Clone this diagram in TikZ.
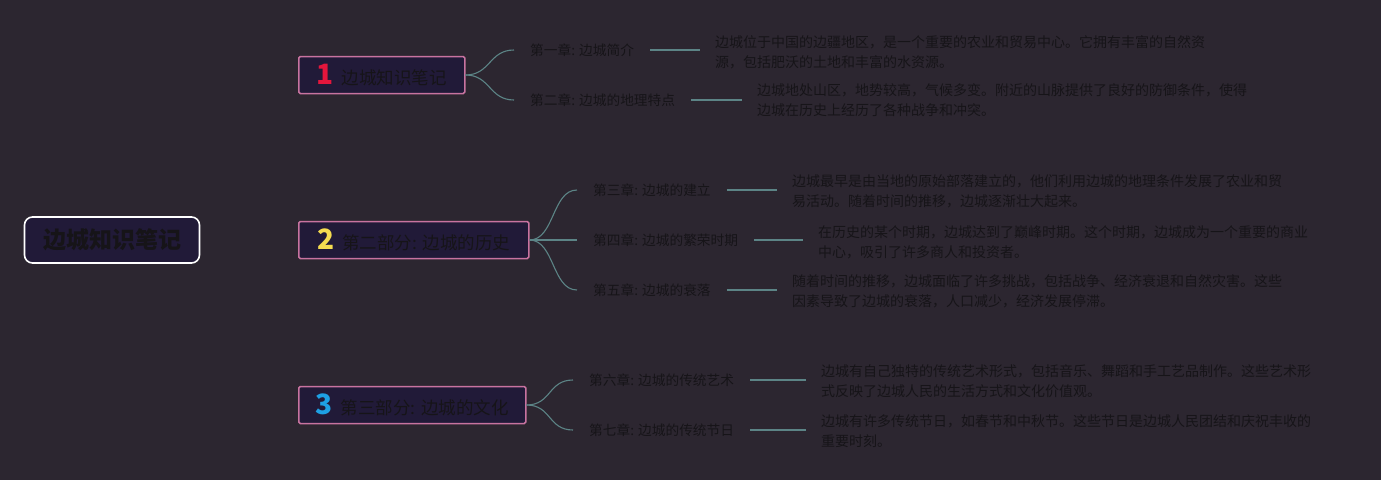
\documentclass[tikz,border=0pt]{standalone}
\usepackage{fontspec}
\setmainfont{Noto Sans CJK SC}
\usetikzlibrary{backgrounds,calc}
\definecolor{bg}{RGB}{44,38,48}
\definecolor{boxfill}{RGB}{33,26,56}
\definecolor{pinkline}{RGB}{200,115,160}
\definecolor{linkc}{RGB}{92,132,134}
\definecolor{txt}{RGB}{22,20,24}
\definecolor{numa}{RGB}{228,22,60}
\definecolor{numb}{RGB}{245,220,80}
\definecolor{numc}{RGB}{30,160,228}
\newcommand{\partnum}[2]{{\fontsize{28}{28}\selectfont\bfseries\color{#1}#2}\hspace{8pt}}
\tikzset{
  rootbox/.style={draw=white, line width=1.6pt, fill=boxfill, rounded corners=8pt,
    minimum width=175pt, minimum height=46pt, inner sep=0pt, text=txt,
    font=\fontsize{23}{23}\selectfont\bfseries},
  partbox/.style={draw=pinkline, line width=1.5pt, fill=boxfill, rounded corners=1.5pt,
    minimum height=37pt, inner sep=0pt, anchor=west, text=txt,
    font=\fontsize{17.5}{17.5}\selectfont},
  chap/.style={anchor=west, inner xsep=16pt, inner ysep=2pt, text=txt,
    font=\fontsize{13.7}{16}\selectfont},
  detail/.style={anchor=west, inner xsep=15pt, inner ysep=0pt, align=left, text=txt,
    font=\fontsize{14}{20}\selectfont},
  conn/.style={draw=linkc, line width=1.1pt},
  hconn/.style={draw=linkc, line width=1.4pt}
}
\begin{document}
\begin{tikzpicture}[x=1pt,y=-1pt]
\useasboundingbox[fill=bg] (0,0) rectangle (1381,480);

\node[rootbox] (root) at (112,240) {边城知识笔记};
\node[partbox, minimum width=166pt] (p1) at (298,75) {\partnum{numa}{1}边城知识笔记};
\node[partbox, minimum width=230pt] (p2) at (298,240) {\partnum{numb}{2}第二部分: 边城的历史};
\node[partbox, minimum width=227pt] (p3) at (298,405) {\partnum{numc}{3}第三部分: 边城的文化};

\node[chap] (l1) at (514,50) {第一章: 边城简介};
\node[chap] (l2) at (514,100) {第二章: 边城的地理特点};
\node[chap] (l3) at (577,190) {第三章: 边城的建立};
\node[chap] (l4) at (577,240) {第四章: 边城的繁荣时期};
\node[chap] (l5) at (577,290) {第五章: 边城的衰落};
\node[chap] (l6) at (573,380) {第六章: 边城的传统艺术};
\node[chap] (l7) at (573,430) {第七章: 边城的传统节日};

\node[detail] (d1) at (700,52) {边城位于中国的边疆地区，是一个重要的农业和贸易中心。它拥有丰富的自然资\\源，包括肥沃的土地和丰富的水资源。};
\node[detail] (d2) at (742,100) {边城地处山区，地势较高，气候多变。附近的山脉提供了良好的防御条件，使得\\边城在历史上经历了各种战争和冲突。};
\node[detail] (d3) at (777,191) {边城最早是由当地的原始部落建立的，他们利用边城的地理条件发展了农业和贸\\易活动。随着时间的推移，边城逐渐壮大起来。};
\node[detail] (d4) at (803,242) {在历史的某个时期，边城达到了巅峰时期。这个时期，边城成为一个重要的商业\\中心，吸引了许多商人和投资者。};
\node[detail] (d5) at (777,291) {随着时间的推移，边城面临了许多挑战，包括战争、经济衰退和自然灾害。这些\\因素导致了边城的衰落，人口减少，经济发展停滞。};
\node[detail] (d6) at (806,381) {边城有自己独特的传统艺术形式，包括音乐、舞蹈和手工艺品制作。这些艺术形\\式反映了边城人民的生活方式和文化价值观。};
\node[detail] (d7) at (806,431) {边城有许多传统节日，如春节和中秋节。这些节日是边城人民团结和庆祝丰收的\\重要时刻。};

\begin{scope}[on background layer]
\draw[conn] (root.center) .. controls +(13,-120) and +(-108,0) .. (p1.west);
\draw[conn] (root.center) .. controls +(13,120) and +(-108,0) .. (p3.west);
\draw[conn] (root.east) -- (p2.west);
\end{scope}

\foreach \p/\l in {p1/l1,p1/l2,p2/l3,p2/l5,p3/l6,p3/l7}
  \draw[conn] (\p.east) .. controls +(25,0) and +(-25,0) .. (\l.west);
\draw[conn] (p2.east) -- (l4.west);

\foreach \l/\d in {l1/d1,l2/d2,l3/d3,l4/d4,l5/d5,l6/d6,l7/d7}
  \draw[hconn] (\l.east) -- (\l.east -| \d.west);
\end{tikzpicture}
\end{document}
